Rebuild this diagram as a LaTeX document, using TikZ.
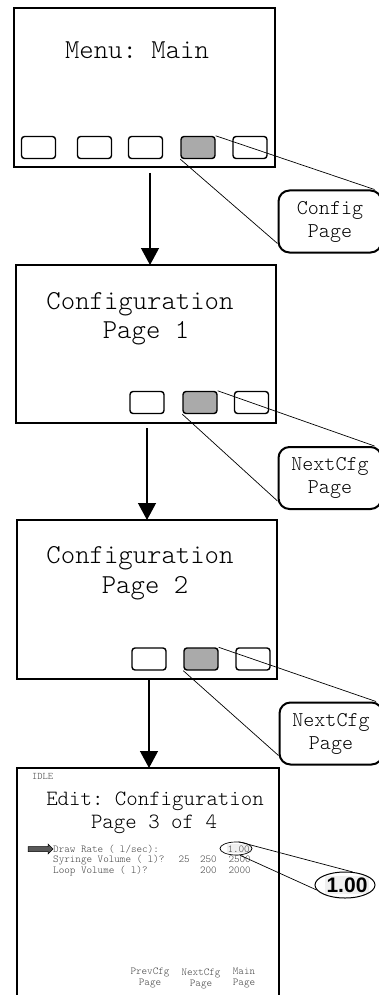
\documentclass[tikz,border=0pt]{standalone}
\usepackage{fontspec}
\setsansfont{Liberation Sans}
\setmonofont{Latin Modern Mono Light}
\usetikzlibrary{arrows.meta,shapes.geometric}
\begin{document}
\begin{tikzpicture}[x=1pt, y=-1pt, font=\ttfamily,
    screen/.style={draw, line width=2.6pt, inner sep=0pt, outer sep=0pt},
    btn/.style={draw, rounded corners=3pt, line width=1.4pt, minimum width=34pt, minimum height=22pt, inner sep=0pt},
    callout/.style={draw, line width=2pt, rounded corners=11pt, minimum width=103pt, minimum height=62pt, align=center, font=\ttfamily\fontsize{21}{23}\selectfont},
    lead/.style={line width=0.7pt},
    flow/.style={line width=1.3pt, -{Triangle[width=18pt,length=17pt]}},
    title/.style={anchor=base, font=\ttfamily\fontsize{27.4}{30}\selectfont},
    edit/.style={anchor=base, font=\ttfamily\fontsize{21.8}{24}\selectfont},
    tiny/.style={inner sep=0pt, text=black!75, font=\ttfamily\fontsize{10.6}{11}\selectfont},
    ring/.style={draw, ellipse, inner sep=0pt}]
  \path[use as bounding box, clip] (0,0) rectangle (379,995);
  % screens
  \node[screen, minimum width=261pt, minimum height=159pt] (s1) at (144.5,87.5) {};
  \node[screen, minimum width=260pt, minimum height=158pt] (s2) at (146,344) {};
  \node[screen, minimum width=260pt, minimum height=159pt] (s3) at (147,599.5) {};
  \node[screen, minimum width=262pt, minimum height=242pt] (s4) at (148,889) {};
  \node[title] (t1) at (137,59) {Menu: Main};
  \node[title] (t2a) at (140,309) {Configuration};
  \node[title] (t2b) at (146,338) {Page 1};
  \node[title] (t3a) at (140,563) {Configuration};
  \node[title] (t3b) at (145,593) {Page 2};
  % soft keys
  \foreach \x [count=\i] in {38.5,94.5,145.5} \node[btn] (m\i) at (\x,147.5) {};
  \node[btn, fill=gray!67] (m4) at (198,147.5) {};
  \node[btn] (m5) at (250,147.5) {};
  \node[btn] (p1) at (147,402.5) {};
  \node[btn, fill=gray!67] (p2) at (200,402.5) {};
  \node[btn] (p3) at (251.5,402.5) {};
  \node[btn] (q1) at (149,659) {};
  \node[btn, fill=gray!67] (q2) at (201,659) {};
  \node[btn] (q3) at (253,659) {};
  % callouts
  \node[callout] (c1) at (330,221.5) {Config\\Page};
  \node[callout] (c2) at (330,478) {NextCfg\\Page};
  \node[callout] (c3) at (331,733.5) {NextCfg\\Page};
  \draw[lead] (m4.north east) -- ([xshift=-8pt]c1.north east) (m4.south west) -- ([yshift=10pt]c1.south west);
  \draw[lead] (p2.north east) -- ([xshift=-8pt]c2.north east) (p2.south west) -- ([yshift=9pt]c2.south west);
  \draw[lead] (q2.north east) -- ([xshift=-7.5pt]c3.north east) (q2.south west) -- ([yshift=10pt]c3.south west);
  % flow
  \draw[flow] ([xshift=5.5pt,yshift=-6pt]s1.south) -- ([xshift=4pt]s2.north);
  \draw[flow] ([xshift=1pt,yshift=-5pt]s2.south) -- ([xshift=0pt]s3.north);
  \draw[flow] ([xshift=2pt]s3.south) -- ([xshift=1pt]s4.north);
  % edit page
  \node[tiny, anchor=base west, font=\ttfamily\fontsize{10}{11}\selectfont] (idle) at (32,779) {IDLE};
  \node[edit] (t4a) at (155,805) {Edit: Configuration};
  \node[edit] (t4b) at (154,828) {Page 3 of 4};
  \draw[fill=black!65, line width=0.5pt] (28,846.5) -- (48,846.5) -- (48,844) -- (53,849) -- (48,854) -- (48,851.5) -- (28,851.5) -- cycle;
  \node[tiny, anchor=base west] (r1) at (53,852) {Draw Rate ( l/sec):};
  \node[tiny, anchor=base west] (r2) at (53,862.5) {Syringe Volume ( l)?};
  \node[tiny, anchor=base west] (r3) at (53,873) {Loop Volume ( l)?};
  \node[tiny, anchor=base east, fill=gray!12, inner sep=1pt] (v0) at (251,852) {1.00};
  \foreach \v/\x/\y in {25/190/862.5, 250/217/862.5, 2500/251/862.5, 200/217/873, 2000/251/873}
    \node[tiny, anchor=base east] at (\x,\y) {\v};
  \node[ring, line width=0.7pt, minimum width=32pt, minimum height=13pt] (o0) at (236,848.5) {};
  \node[inner sep=1.5pt, fill=gray!12, font=\sffamily\bfseries\fontsize{21}{21}\selectfont] (v1) at (347,885) {1.00};
  \node[ring, line width=1pt, minimum width=60pt, minimum height=26pt] (o1) at (345,885) {};
  \draw[lead] (o0.70) -- (o1.60) (o0.-60) -- (o1.190);
  \node[tiny, align=center] (k1) at (150,978) {PrevCfg\\Page};
  \node[tiny, align=center] (k2) at (201,979) {NextCfg\\Page};
  \node[tiny, align=center] (k3) at (244,978) {Main\\Page};
\end{tikzpicture}
\end{document}
